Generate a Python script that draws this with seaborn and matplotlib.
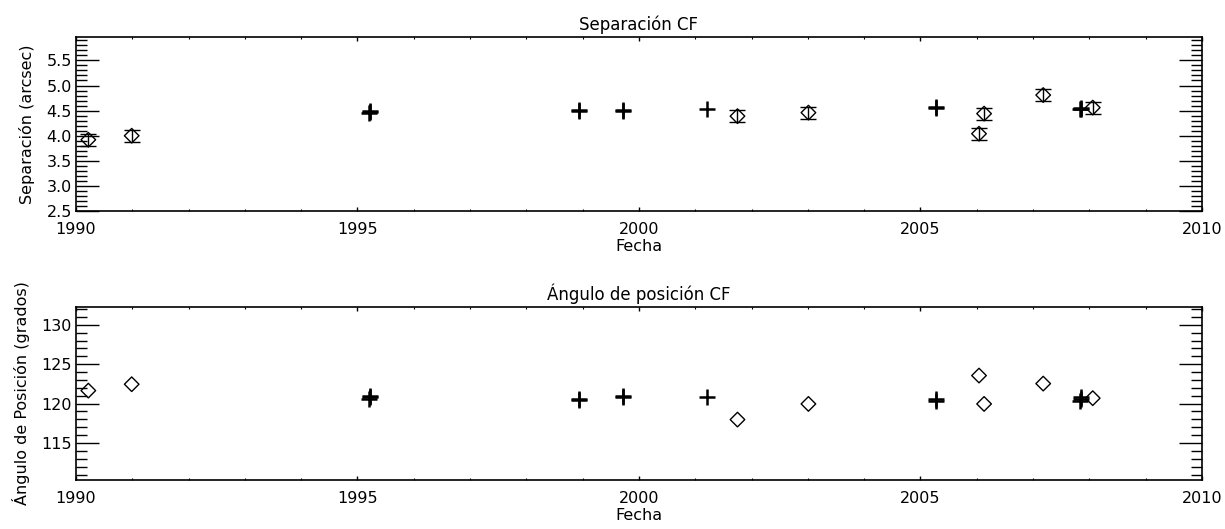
import numpy as np
import pandas as pd
import matplotlib
matplotlib.use("Agg")
import matplotlib.pyplot as plt
import seaborn as sns
from matplotlib.ticker import MultipleLocator

sns.set_theme(style="white")
plt.rcParams['font.family'] = ['DejaVu Sans']
plt.rcParams['text.color'] = 'black'
plt.rcParams['axes.labelcolor'] = 'black'
plt.rcParams['xtick.color'] = 'black'
plt.rcParams['ytick.color'] = 'black'

# ---- data ----
# diamonds (historic measurements)
diam_fecha = [1990.22, 1990.99, 2001.75, 2003.01, 2006.04, 2006.13, 2007.18, 2008.06]
diam_sep = [3.92, 4.00, 4.39, 4.46, 4.04, 4.44, 4.81, 4.56]
diam_sep_err = [0.12, 0.12, 0.12, 0.12, 0.12, 0.12, 0.12, 0.12]
diam_pa = [121.65, 122.46, 117.97, 119.96, 123.56, 119.96, 122.54, 120.69]

# crosses (own measurements, several per epoch)
cruz_fecha = [1995.21, 1995.23, 1995.22, 1998.93, 1998.93, 1999.72, 1999.72,
              2001.20, 2005.28, 2005.28, 2007.83, 2007.86, 2007.85]
cruz_sep = [4.45, 4.49, 4.47, 4.50, 4.52, 4.50, 4.52,
            4.54, 4.55, 4.57, 4.53, 4.55, 4.54]
cruz_pa = [120.6, 121.0, 120.8, 120.4, 120.6, 120.8, 121.0,
           120.9, 120.3, 120.55, 120.3, 120.8, 120.55]

xticks = [1990, 1995, 2000, 2005, 2010]

df_d = pd.DataFrame({"fecha": diam_fecha, "sep": diam_sep, "err": diam_sep_err, "pa": diam_pa})
df_c = pd.DataFrame({"fecha": cruz_fecha, "sep": cruz_sep, "pa": cruz_pa})

fig = plt.figure(figsize=(12.25, 5.29), dpi=100)
ax1 = fig.add_axes([0.062, 0.601, 0.9192, 0.3285])
ax2 = fig.add_axes([0.062, 0.0926, 0.9192, 0.3276])

FS = 11.5

def style(ax, ylim, ymaj, ymin):
    ax.set_xlim(1990, 2010)
    ax.set_ylim(*ylim)
    ax.set_xticks(xticks)
    ax.xaxis.set_minor_locator(MultipleLocator(1))
    ax.yaxis.set_major_locator(MultipleLocator(ymaj))
    ax.yaxis.set_minor_locator(MultipleLocator(ymin))
    ax.tick_params(axis='x', which='major', direction='in', top=True, bottom=True,
                   length=3, width=1, labelsize=FS, pad=8, color='black')
    ax.tick_params(axis='x', which='minor', direction='in', top=True, bottom=True,
                   length=1.5, width=0.8, color='black')
    ax.tick_params(axis='y', which='major', direction='in', left=True, right=True,
                   length=16.5, width=1, labelsize=FS, pad=3, color='black')
    ax.tick_params(axis='y', which='minor', direction='in', left=True, right=True,
                   length=8, width=1, color='black')
    for s in ax.spines.values():
        s.set_color('black')
        s.set_linewidth(1.2)
    ax.set_xlabel("Fecha", fontsize=FS, labelpad=1)

# top panel
ax1.errorbar(df_d["fecha"], df_d["sep"], yerr=df_d["err"], fmt='none',
             ecolor='black', elinewidth=1, capsize=6, capthick=1, zorder=2)
sns.scatterplot(data=df_d, x="fecha", y="sep", ax=ax1, marker='D', s=55,
                facecolor='none', edgecolor='black', linewidth=1, zorder=3)
sns.scatterplot(data=df_c, x="fecha", y="sep", ax=ax1, marker='+', s=120,
                color='black', linewidth=1.8, zorder=3)
style(ax1, (2.5, 5.96), 0.5, 0.1)
ax1.set_yticks([2.5, 3.0, 3.5, 4.0, 4.5, 5.0, 5.5])
ax1.set_yticklabels(["2.5", "3.0", "3.5", "4.0", "4.5", "5.0", "5.5"])
ax1.set_ylabel("Separación (arcsec)", fontsize=FS, labelpad=8)
ax1.set_title("Separación CF", fontsize=FS + 0.5, pad=5)

# bottom panel
sns.scatterplot(data=df_d, x="fecha", y="pa", ax=ax2, marker='D', s=55,
                facecolor='none', edgecolor='black', linewidth=1, zorder=3)
sns.scatterplot(data=df_c, x="fecha", y="pa", ax=ax2, marker='+', s=120,
                color='black', linewidth=1.8, zorder=3)
style(ax2, (110.3, 132.3), 5, 1)
ax2.set_ylabel("Ángulo de Posición (grados)", fontsize=FS, labelpad=8)
ax2.set_title("Ángulo de posición CF", fontsize=FS + 0.5, pad=5)

fig.savefig("out.png", dpi=100)
